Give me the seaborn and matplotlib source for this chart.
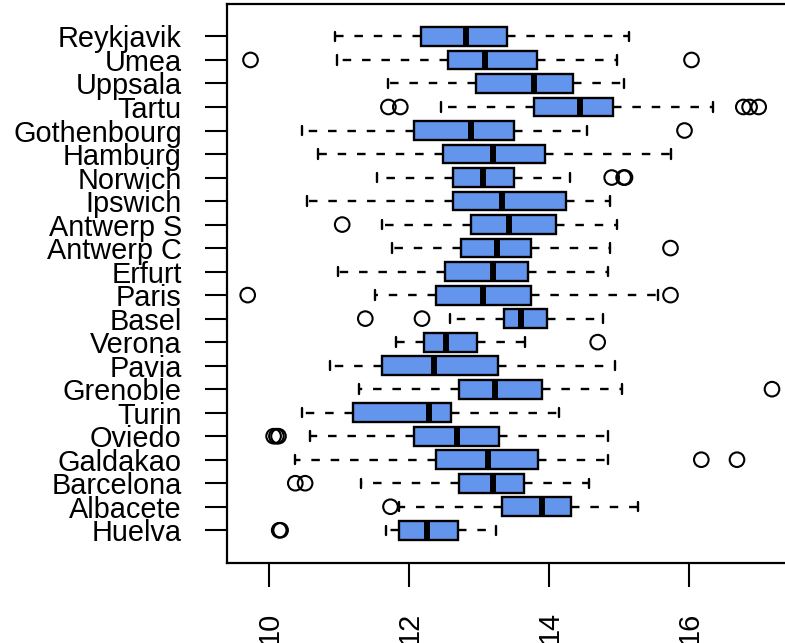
import pandas as pd
import matplotlib
matplotlib.use("Agg")
import matplotlib.pyplot as plt
import seaborn as sns

# five-number summaries (top to bottom)
cities = ["Reykjavik", "Umea", "Uppsala", "Tartu", "Gothenbourg", "Hamburg",
          "Norwich", "Ipswich", "Antwerp S", "Antwerp C", "Erfurt", "Paris",
          "Basel", "Verona", "Pavia", "Grenoble", "Turin", "Oviedo",
          "Galdakao", "Barcelona", "Albacete", "Huelva"]
low = [10.93, 10.96, 11.70, 12.45, 10.47, 10.70, 11.54, 10.54, 11.61, 11.75, 10.98,
       11.51, 12.58, 11.81, 10.87, 11.28, 10.47, 10.58, 10.37, 11.31, 11.85, 11.67]
q1 = [12.17, 12.55, 12.95, 13.78, 12.07, 12.48, 12.62, 12.62, 12.88, 12.74, 12.51,
      12.38, 13.35, 12.21, 11.61, 12.71, 11.20, 12.07, 12.38, 12.71, 13.32, 11.85]
med = [12.81, 13.08, 13.78, 14.43, 12.88, 13.19, 13.05, 13.32, 13.42, 13.25, 13.19,
       13.05, 13.59, 12.52, 12.35, 13.22, 12.28, 12.68, 13.12, 13.19, 13.89, 12.25]
q3 = [13.39, 13.82, 14.34, 14.91, 13.50, 13.93, 13.50, 14.24, 14.10, 13.73, 13.69,
      13.73, 13.96, 12.96, 13.26, 13.90, 12.59, 13.28, 13.83, 13.63, 14.31, 12.69]
high = [15.13, 14.97, 15.07, 16.34, 14.54, 15.74, 14.30, 14.87, 14.97, 14.87, 14.83,
        15.55, 14.76, 13.65, 14.94, 15.03, 14.13, 14.83, 14.83, 14.57, 15.27, 13.23]

# outlying points
out_city = ["Umea", "Umea", "Tartu", "Tartu", "Tartu", "Tartu", "Tartu",
            "Gothenbourg", "Norwich", "Norwich", "Norwich", "Antwerp S",
            "Antwerp C", "Paris", "Paris", "Basel", "Basel", "Verona",
            "Grenoble", "Oviedo", "Oviedo", "Oviedo", "Galdakao", "Galdakao",
            "Barcelona", "Barcelona", "Albacete", "Huelva", "Huelva"]
out_value = [9.73, 16.03, 11.70, 11.87, 16.77, 16.86, 16.99,
             15.93, 14.89, 15.06, 15.08, 11.04,
             15.73, 9.69, 15.73, 11.37, 12.18, 14.69,
             17.18, 10.06, 10.10, 10.13, 16.17, 16.68,
             10.37, 10.51, 11.73, 10.14, 10.16]

rows = []
for i, c in enumerate(cities):
    for v in (low[i], q1[i], med[i], q3[i], high[i]):
        rows.append({"city": c, "value": v})
boxes = pd.DataFrame(rows)
outliers = pd.DataFrame({"city": out_city, "value": out_value})

sns.set_style("ticks")
plt.rcParams["font.family"] = ["Liberation Sans", "DejaVu Sans"]

fig = plt.figure(figsize=(7.85, 6.43), dpi=100)
ax = fig.add_axes([226.7 / 785, (643 - 562.7) / 643, (793 - 226.7) / 785, (562.7 - 4) / 643])

sns.boxplot(data=boxes, x="value", y="city", order=cities, orient="h",
            whis=(0, 100), showfliers=False, width=0.8, saturation=1,
            color="#6495ED", linecolor="black", linewidth=1.7,
            whiskerprops={"linestyle": (0, (3.6, 4.6))},
            medianprops={"linewidth": 4.3, "solid_capstyle": "butt"},
            ax=ax)
sns.stripplot(data=outliers, x="value", y="city", order=cities, orient="h",
              jitter=False, color="black", size=10.5, ax=ax)
for coll in ax.collections:
    coll.set_facecolor("none")
    coll.set_edgecolor("black")
    coll.set_linewidth(1.5)

ax.set_xlim(9.39, 17.48)
ax.set_ylim(len(cities) - 1 + 1.38, -1.38)
ax.set_xticks([10, 12, 14, 16])
ax.set_xticklabels(["10", "12", "14", "16"], rotation=90)
ax.set_xlabel("")
ax.set_ylabel("")
for s in ax.spines.values():
    s.set_color("black")
    s.set_linewidth(1.6)
ax.tick_params(axis="y", length=15.8, width=1.5, pad=16.5, labelsize=20.8, colors="black")
ax.tick_params(axis="x", length=17, width=1.5, pad=18, labelsize=20.8, colors="black")

plt.savefig("out.png", dpi=100)
